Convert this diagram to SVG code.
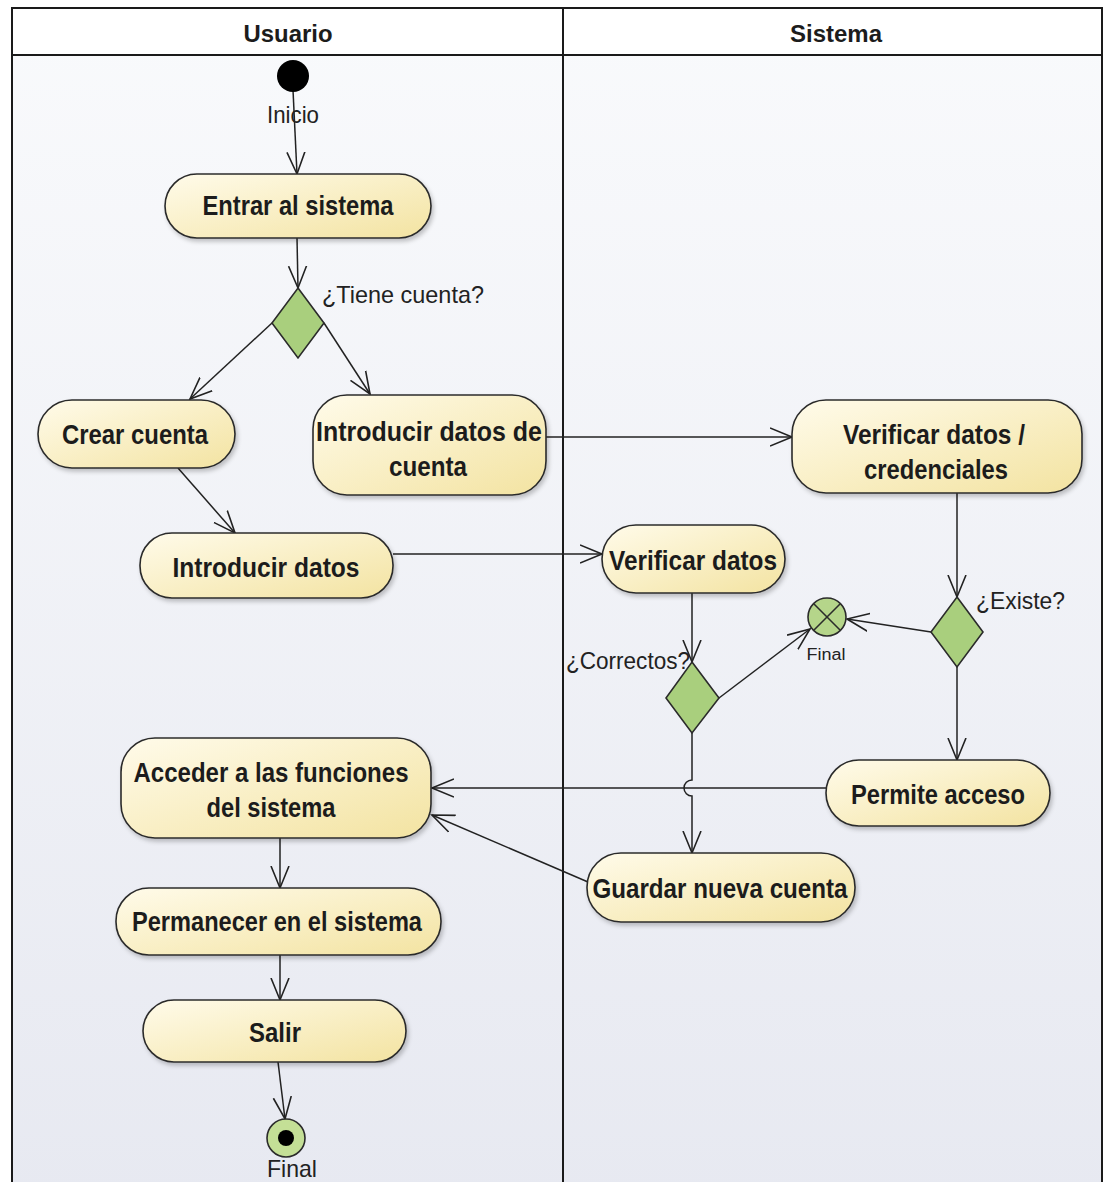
<svg xmlns="http://www.w3.org/2000/svg" width="1106" height="1182" viewBox="0 0 1106 1182">
<style>
.act{fill:url(#actg);stroke:#2b2b2b;stroke-width:1.6;filter:url(#sh)}
.dec{fill:#a9cf7d;stroke:#2b2b2b;stroke-width:1.6}
.t{font-family:"Liberation Sans Narrow","Liberation Sans",Arial,sans-serif;font-weight:bold;font-size:27px;fill:#1c1c1c;text-anchor:middle}
.h{font-family:"Liberation Sans Narrow","Liberation Sans",Arial,sans-serif;font-weight:bold;font-size:24px;fill:#1c1c1c;text-anchor:middle}
.lbl{font-family:"Liberation Sans Narrow","Liberation Sans",Arial,sans-serif;font-size:24px;fill:#222}
.sm{font-family:"Liberation Sans Narrow","Liberation Sans",Arial,sans-serif;font-size:16px;fill:#222}
.conn{fill:none;stroke:#222;stroke-width:1.5}
.ar{marker-end:url(#arr)}
.frame{fill:none;stroke:#1a1a1a;stroke-width:2}
</style>
<defs>
<linearGradient id="laneg" x1="0" y1="0" x2="0" y2="1"><stop offset="0" stop-color="#f9fafc"/><stop offset="1" stop-color="#e7e9f1"/></linearGradient>
<linearGradient id="actg" x1="0" y1="0" x2="1" y2="1"><stop offset="0" stop-color="#fffbea"/><stop offset="1" stop-color="#f3e3a1"/></linearGradient>
<filter id="sh" x="-10%" y="-20%" width="130%" height="150%"><feDropShadow dx="2" dy="3" stdDeviation="2" flood-color="#000" flood-opacity="0.22"/></filter>
<marker id="arr" markerUnits="userSpaceOnUse" markerWidth="26" markerHeight="22" refX="22" refY="10" orient="auto"><path d="M0,1 L22,10 L0,19" fill="none" stroke="#222" stroke-width="1.6"/></marker>
</defs>
<g id="swimlanes">
<rect x="12" y="8" width="1090" height="1190" fill="url(#laneg)"/>
<rect x="12" y="8" width="1090" height="47" fill="#ffffff"/>
<rect x="12" y="8" width="1090" height="1190" class="frame"/>
<line x1="12" y1="55" x2="1102" y2="55" stroke="#1a1a1a" stroke-width="2"/>
<line x1="563" y1="8" x2="563" y2="1190" stroke="#1a1a1a" stroke-width="2"/>
<text class="h" x="288" y="42" textLength="89" lengthAdjust="spacingAndGlyphs">Usuario</text>
<text class="h" x="836" y="42" textLength="92" lengthAdjust="spacingAndGlyphs">Sistema</text>
</g>
<g id="connectors">
<line class="conn ar" x1="293" y1="90" x2="297" y2="174"/>
<line class="conn ar" x1="297" y1="238" x2="298" y2="288"/>
<line class="conn ar" x1="272" y1="323" x2="190" y2="399"/>
<line class="conn ar" x1="324" y1="323" x2="370" y2="394"/>
<line class="conn ar" x1="178" y1="468" x2="235" y2="533"/>
<line class="conn ar" x1="546" y1="437" x2="792" y2="437"/>
<line class="conn ar" x1="393" y1="554" x2="602" y2="554"/>
<line class="conn ar" x1="692" y1="593" x2="692" y2="662"/>
<line class="conn ar" x1="719" y1="698" x2="810" y2="629"/>
<line class="conn ar" x1="931" y1="632" x2="847" y2="619"/>
<line class="conn ar" x1="957" y1="493" x2="957" y2="597"/>
<line class="conn ar" x1="957" y1="667" x2="957" y2="760"/>
<line class="conn ar" x1="826" y1="788" x2="432" y2="788"/>
<path class="conn ar" d="M692,733 L692,780 A8,8 0 0 0 692,796 L692,853"/>
<line class="conn ar" x1="588" y1="882" x2="432" y2="815"/>
<line class="conn ar" x1="280" y1="838" x2="280" y2="888"/>
<line class="conn ar" x1="280" y1="955" x2="280" y2="1000"/>
<line class="conn ar" x1="278" y1="1062" x2="285" y2="1119"/>
</g>
<g id="start">
<circle cx="293" cy="76" r="16" fill="#000"/>
<text class="lbl" x="293" y="123" text-anchor="middle" textLength="52" lengthAdjust="spacingAndGlyphs">Inicio</text>
</g>
<g id="entrar">
<rect class="act" x="165" y="174" width="266" height="64" rx="32"/>
<text class="t" x="298" y="215" textLength="191" lengthAdjust="spacingAndGlyphs">Entrar al sistema</text>
</g>
<g id="d-tiene">
<polygon class="dec" points="298,288 324,323 298,358 272,323"/>
<text class="lbl" x="322" y="303" textLength="162" lengthAdjust="spacingAndGlyphs">¿Tiene cuenta?</text>
</g>
<g id="crear">
<rect class="act" x="38" y="400" width="197" height="68" rx="34"/>
<text class="t" x="135" y="444" textLength="146" lengthAdjust="spacingAndGlyphs">Crear cuenta</text>
</g>
<g id="intro-cuenta">
<rect class="act" x="313" y="395" width="233" height="100" rx="34"/>
<text class="t" x="429" y="441" textLength="226" lengthAdjust="spacingAndGlyphs">Introducir datos de</text>
<text class="t" x="428" y="476" textLength="78" lengthAdjust="spacingAndGlyphs">cuenta</text>
</g>
<g id="verificar-cred">
<rect class="act" x="792" y="400" width="290" height="93" rx="34"/>
<text class="t" x="934" y="444" textLength="182" lengthAdjust="spacingAndGlyphs">Verificar datos /</text>
<text class="t" x="936" y="479" textLength="144" lengthAdjust="spacingAndGlyphs">credenciales</text>
</g>
<g id="intro-datos">
<rect class="act" x="140" y="533" width="253" height="65" rx="32"/>
<text class="t" x="266" y="577" textLength="187" lengthAdjust="spacingAndGlyphs">Introducir datos</text>
</g>
<g id="verificar-datos">
<rect class="act" x="602" y="525" width="183" height="68" rx="34"/>
<text class="t" x="693" y="570" textLength="168" lengthAdjust="spacingAndGlyphs">Verificar datos</text>
</g>
<g id="d-correctos">
<polygon class="dec" points="692,662 719,698 692,733 666,698"/>
<text class="lbl" x="566" y="669" textLength="124" lengthAdjust="spacingAndGlyphs">¿Correctos?</text>
</g>
<g id="flow-final">
<circle cx="827" cy="617" r="19" fill="#b5d58a" stroke="#2b2b2b" stroke-width="1.6"/>
<line x1="814" y1="604" x2="840" y2="630" stroke="#2b2b2b" stroke-width="1.6"/>
<line x1="840" y1="604" x2="814" y2="630" stroke="#2b2b2b" stroke-width="1.6"/>
<text class="sm" x="826" y="660" text-anchor="middle" textLength="39" lengthAdjust="spacingAndGlyphs">Final</text>
</g>
<g id="d-existe">
<polygon class="dec" points="957,597 983,632 957,667 931,632"/>
<text class="lbl" x="976" y="609" textLength="89" lengthAdjust="spacingAndGlyphs">¿Existe?</text>
</g>
<g id="acceder">
<rect class="act" x="121" y="738" width="310" height="100" rx="34"/>
<text class="t" x="271" y="782" textLength="275" lengthAdjust="spacingAndGlyphs">Acceder a las funciones</text>
<text class="t" x="271" y="817" textLength="129" lengthAdjust="spacingAndGlyphs">del sistema</text>
</g>
<g id="permite">
<rect class="act" x="826" y="760" width="224" height="66" rx="33"/>
<text class="t" x="938" y="804" textLength="174" lengthAdjust="spacingAndGlyphs">Permite acceso</text>
</g>
<g id="guardar">
<rect class="act" x="587" y="853" width="268" height="69" rx="34"/>
<text class="t" x="720" y="898" textLength="255" lengthAdjust="spacingAndGlyphs">Guardar nueva cuenta</text>
</g>
<g id="permanecer">
<rect class="act" x="116" y="888" width="325" height="67" rx="33"/>
<text class="t" x="277" y="931" textLength="290" lengthAdjust="spacingAndGlyphs">Permanecer en el sistema</text>
</g>
<g id="salir">
<rect class="act" x="143" y="1000" width="263" height="62" rx="31"/>
<text class="t" x="275" y="1042" textLength="52" lengthAdjust="spacingAndGlyphs">Salir</text>
</g>
<g id="final">
<circle cx="286" cy="1138" r="19" fill="#c4df96" stroke="#2b2b2b" stroke-width="1.6"/>
<circle cx="286" cy="1138" r="8" fill="#000"/>
<text class="lbl" x="292" y="1177" text-anchor="middle" textLength="50" lengthAdjust="spacingAndGlyphs">Final</text>
</g>
</svg>
